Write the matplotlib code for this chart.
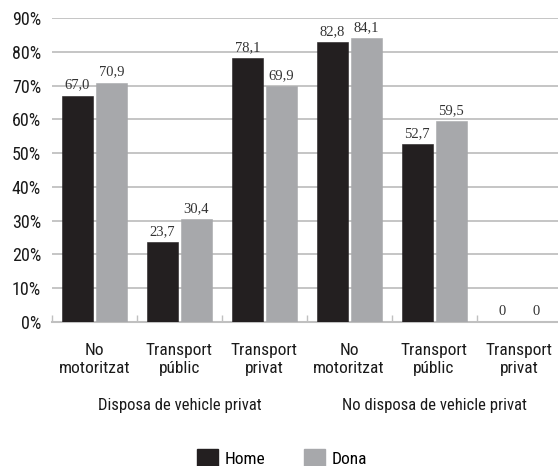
import numpy as np
import matplotlib.pyplot as plt
from matplotlib.patches import Patch

categories = ['No\nmotoritzat', 'Transport\npúblic', 'Transport\nprivat',
              'No\nmotoritzat', 'Transport\npúblic', 'Transport\nprivat']
groups = ['Disposa de vehicle privat', 'No disposa de vehicle privat']
home = [67.0, 23.7, 78.1, 82.8, 52.7, 0.0]
dona = [70.9, 30.4, 69.9, 84.1, 59.5, 0.0]
home_lbl = ['67,0', '23,7', '78,1', '82,8', '52,7', '0']
dona_lbl = ['70,9', '30,4', '69,9', '84,1', '59,5', '0']

c_home = '#231f20'
c_dona = '#a7a8ab'
grid_c = '#c0c0c0'
txt_c = '#1a1a1a'
sans = ['Roboto Condensed', 'Roboto', 'DejaVu Sans']
serif = ['Liberation Serif', 'DejaVu Serif']

fig = plt.figure(figsize=(5.58, 4.66), dpi=100)
ax = fig.add_axes([52 / 558, 1 - 322 / 466, 6 * 84.9 / 558, 304 / 466])

x = np.arange(len(categories))
w = 0.365
b1 = ax.bar(x - 0.2, home, w, color=c_home, edgecolor=c_home, linewidth=0.4, zorder=3)
b2 = ax.bar(x + 0.2, dona, w, color=c_dona, edgecolor=c_dona, linewidth=0.4, zorder=3)

for bars, lbls in ((b1, home_lbl), (b2, dona_lbl)):
    for r, t in zip(bars, lbls):
        ax.annotate(t, (r.get_x() + r.get_width() / 2, r.get_height()),
                    xytext=(0, 3), textcoords='offset points', ha='center', va='bottom',
                    fontsize=10.5, family=serif, color='#333333')

ax.set_xlim(-0.5, len(categories) - 0.5)
ax.set_ylim(0, 90)
ax.set_yticks(np.arange(0, 91, 10))
ax.set_yticklabels(['%d%%' % v for v in range(0, 91, 10)], family=sans, fontsize=13, color=txt_c)
ax.yaxis.grid(True, color=grid_c, linewidth=1.3, zorder=0)
ax.tick_params(axis='y', length=0, pad=8)

ax.set_xticks(x)
ax.set_xticklabels(categories, family=sans, fontsize=12.5, color=txt_c, linespacing=1.25)
ax.tick_params(axis='x', length=0, pad=15)
ax.set_xticks(np.arange(-0.5, len(categories), 1), minor=True)
ax.tick_params(axis='x', which='minor', direction='in', length=5, width=1, color=grid_c)

for s in ['top', 'right', 'left']:
    ax.spines[s].set_visible(False)
ax.spines['bottom'].set_color(grid_c)
ax.spines['bottom'].set_linewidth(1.5)

for i, g in enumerate(groups):
    ax.text(1 + 3 * i, -0.275, g, transform=ax.get_xaxis_transform(), ha='center', va='center',
            family=sans, fontsize=12, color=txt_c)

handles = [Patch(color=c_home, label='Home'), Patch(color=c_dona, label='Dona')]
fig.legend(handles=handles, loc='center', bbox_to_anchor=(282 / 558, 1 - 458 / 466), ncol=2,
           frameon=False, prop={'family': sans, 'size': 12.5}, handlelength=1.2, handleheight=1.2,
           columnspacing=2.2, handletextpad=0.4)

fig.savefig('out.png', dpi=100)
